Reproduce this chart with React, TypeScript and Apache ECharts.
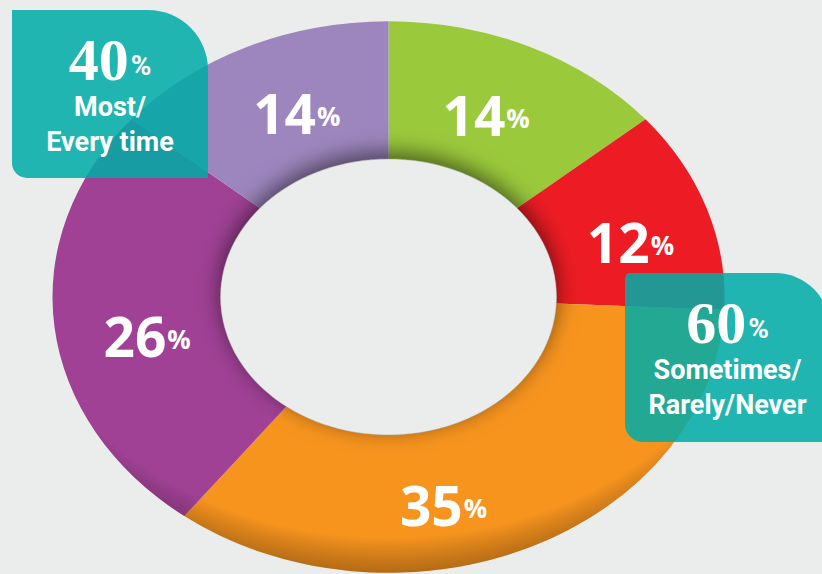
import React, { useEffect, useRef } from "react";
import * as echarts from "echarts";

// ---- data ----
const CATEGORIES = ["Never", "Rarely", "Sometimes", "Most", "Every time"];
const VALUES = [14, 12, 35, 26, 14];
const COLORS = ["#9BC93C", "#ED1C24", "#F7941E", "#A04195", "#9D86BD"];
const GROUP_VALUES = [40, 60];
const GROUP_LABELS = [["Most/", "Every time"], ["Sometimes/", "Rarely/Never"]];

// ---- layout / style ----
const W = 822;
const H = 574;
const BG = "#EBEDEC";
const CX = 388.5;
const CY = 297;
const RX = 336;
const RY = 276;
const INNER = 0.5;
const LABEL_T = [0.73, 0.75, 0.76, 0.73, 0.73];
const LABEL_SHIFT_DEG = [-1.5, 2.5, 12.5, -4, 3];
const TEAL = "rgba(0,171,166,0.86)";
const NUM_FONT = "'Open Sans', 'DejaVu Sans', sans-serif";
const BOX_NUM_FONT = "'Liberation Serif', 'DejaVu Serif', serif";
const BOX_TXT_FONT = "'Liberation Sans Narrow', Roboto, 'Liberation Sans', sans-serif";

const TOTAL = VALUES.reduce((a, b) => a + b, 0);

function angles(i: number) {
  let cum = 0;
  for (let j = 0; j < i; j++) cum += VALUES[j];
  const a0 = -Math.PI / 2 + (cum / TOTAL) * Math.PI * 2;
  const a1 = a0 + (VALUES[i] / TOTAL) * Math.PI * 2;
  return [a0, a1];
}

function box(
  x: number,
  y: number,
  w: number,
  h: number,
  r: number[],
  num: number,
  lines: string[]
) {
  const cx = x + w / 2;
  return [
    {
      type: "rect",
      z: 10,
      shape: { x, y, width: w, height: h, r },
      style: { fill: TEAL },
    },
    {
      type: "text",
      z: 11,
      x: cx,
      y: y + 50,
      style: {
        text: `{n|${num}}{p|%}`,
        align: "center",
        verticalAlign: "middle",
        fill: "#fff",
        rich: {
          n: { fontSize: 60, fontWeight: "bold", fontFamily: BOX_NUM_FONT, fill: "#fff", verticalAlign: "bottom", lineHeight: 60 },
          p: { fontSize: 28, fontWeight: "bold", fontFamily: BOX_TXT_FONT, fill: "#fff", verticalAlign: "bottom", lineHeight: 28, padding: [0, 0, 11, 2] },
        },
      },
    },
    ...lines.map((t, k) => ({
      type: "text",
      z: 11,
      x: cx,
      y: y + 97 + k * 35,
      style: {
        text: t,
        align: "center",
        verticalAlign: "middle",
        fill: "#fff",
        fontSize: 27,
        fontWeight: "bold",
        fontFamily: BOX_TXT_FONT,
      },
    })),
  ];
}

export default function App() {
  const ref = useRef<HTMLDivElement>(null);
  useEffect(() => {
    document.body.style.margin = "0";
    if (!ref.current) return;
    const chart = echarts.init(ref.current, undefined, { renderer: "svg" });
    const data = VALUES.map((v, i) => ({ value: v, name: CATEGORIES[i] }));
    chart.setOption({
      animation: false,
      backgroundColor: BG,
      series: [
        {
          type: "custom",
          coordinateSystem: "none",
          z: 2,
          data,
          renderItem: (params: any, api: any) => {
            const i = params.dataIndex;
            const [a0, a1] = angles(i);
            return {
              type: "group",
              x: CX,
              y: CY,
              scaleY: RY / RX,
              children: [
                {
                  type: "sector",
                  shape: { cx: 0, cy: 0, r: RX, r0: RX * INNER, startAngle: a0, endAngle: a1, clockwise: true },
                  style: { fill: COLORS[i] },
                },
              ],
            };
          },
        },
        {
          type: "custom",
          coordinateSystem: "none",
          z: 5,
          data,
          renderItem: (params: any, api: any) => {
            const i = params.dataIndex;
            const v = api.value(0);
            const [a0, a1] = angles(i);
            const mid = (a0 + a1) / 2 + (LABEL_SHIFT_DEG[i] * Math.PI) / 180;
            return {
              type: "text",
              x: CX + LABEL_T[i] * RX * Math.cos(mid),
              y: CY + LABEL_T[i] * RY * Math.sin(mid),
              style: {
                text: `{n|${v}}{p|%}`,
                align: "center",
                verticalAlign: "middle",
                fill: "#fff",
                rich: {
                  n: { fontSize: 55, fontWeight: "bold", fontFamily: NUM_FONT, fill: "#fff", verticalAlign: "bottom", lineHeight: 60 },
                  p: { fontSize: 26, fontWeight: "bold", fontFamily: NUM_FONT, fill: "#fff", verticalAlign: "bottom", lineHeight: 26, padding: [0, 0, 11, 1] },
                },
              },
            };
          },
        },
      ],
      graphic: [
        {
          type: "group",
          x: CX,
          y: CY,
          scaleY: RY / RX,
          z: 3,
          children: [
            {
              type: "ring",
              z: 3,
              shape: { cx: 0, cy: 0, r: RX, r0: RX * INNER },
              style: {
                fill: {
                  type: "radial",
                  x: 0.5,
                  y: 0.36,
                  r: 0.64,
                  colorStops: [
                    { offset: 0, color: "rgba(0,0,0,0)" },
                    { offset: 0.9, color: "rgba(0,0,0,0)" },
                    { offset: 1, color: "rgba(40,20,0,0.32)" },
                  ],
                },
              },
            },
          ],
        },
        {
          type: "ellipse",
          z: 4,
          shape: { cx: CX, cy: CY, rx: RX * INNER, ry: RY * INNER },
          style: {
            fill: BG,
            stroke: "rgba(120,120,120,0.5)",
            lineWidth: 0.6,
            shadowBlur: 22,
            shadowOffsetY: -6,
            shadowColor: "rgba(0,0,0,0.55)",
          },
        },
        ...box(12, 10, 196, 168, [0, 60, 0, 15], GROUP_VALUES[0], GROUP_LABELS[0]),
        ...box(625, 273, 205, 169, [5, 55, 0, 18], GROUP_VALUES[1], GROUP_LABELS[1]),
      ],
    });
    return () => chart.dispose();
  }, []);
  return <div ref={ref} style={{ width: W, height: H }} />;
}
